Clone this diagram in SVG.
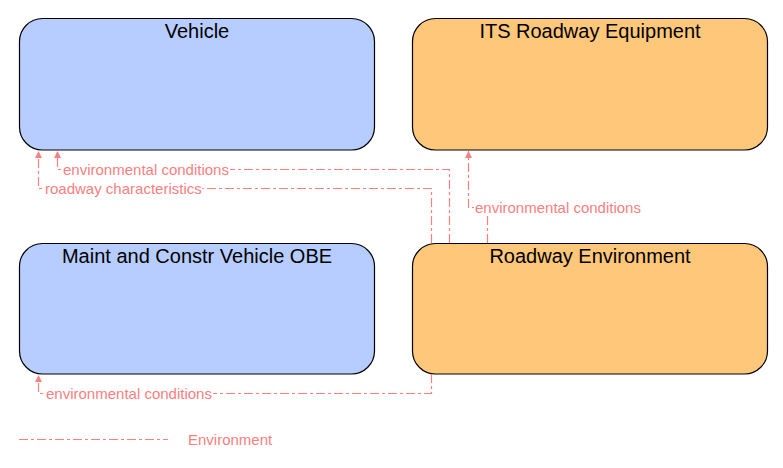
<svg xmlns="http://www.w3.org/2000/svg" width="783" height="468" viewBox="0 0 783 468">
<defs>
<style>
.box{stroke:#000;stroke-width:1.2}
.blue{fill:#b7cdff}
.orange{fill:#ffc77a}
.title{font-family:"Liberation Sans",Arial,sans-serif;font-size:20px;fill:#000;text-anchor:middle}
.flow{fill:none;stroke:#fa8080;stroke-width:1.2;stroke-dasharray:9,3,3,3}
.lbl{font-family:"Liberation Sans",Arial,sans-serif;font-size:15px;fill:#fa8080}
.bg{fill:#fff}
</style>
<marker id="arr" viewBox="0 0 10 10" refX="10" refY="5" markerWidth="7" markerHeight="7" orient="auto" markerUnits="userSpaceOnUse">
<path d="M0,0 L10,5 L0,10 z" fill="#fa8080"/>
</marker>
</defs>
<rect width="783" height="468" fill="#fff"/>
<g id="vehicle"><rect class="box blue" x="19.5" y="18.5" width="355" height="131.5" rx="23" ry="23"/><text class="title" x="197" y="38">Vehicle</text></g>
<g id="its-roadway-equipment"><rect class="box orange" x="412.5" y="18.5" width="355" height="131.5" rx="23" ry="23"/><text class="title" x="590" y="38">ITS Roadway Equipment</text></g>
<g id="maint-vehicle-obe"><rect class="box blue" x="19.5" y="243.5" width="355" height="130.5" rx="23" ry="23"/><text class="title" x="197" y="263">Maint and Constr Vehicle OBE</text></g>
<g id="roadway-environment"><rect class="box orange" x="412.5" y="243.5" width="355" height="130.5" rx="23" ry="23"/><text class="title" x="590" y="263">Roadway Environment</text></g>
<g id="connectors">
<path class="flow" d="M449.5,243 V169.5 H57.5 V151" marker-end="url(#arr)"/>
<rect class="bg" x="62" y="161" width="168" height="16"/>
<text class="lbl" x="63" y="175">environmental conditions</text>
<path class="flow" d="M431.5,243 V188.5 H38.5 V151" marker-end="url(#arr)"/>
<rect class="bg" x="44" y="180" width="158" height="16"/>
<text class="lbl" x="45" y="194">roadway characteristics</text>
<path class="flow" d="M487.5,243 V207.5 H468.5 V151" marker-end="url(#arr)"/>
<rect class="bg" x="474" y="199" width="168" height="16"/>
<text class="lbl" x="475" y="213">environmental conditions</text>
<path class="flow" d="M431.5,374 V393.5 H38.5 V375" marker-end="url(#arr)"/>
<rect class="bg" x="45" y="385" width="168" height="16"/>
<text class="lbl" x="46" y="399">environmental conditions</text>
</g>
<g id="legend">
<path class="flow" d="M19,439.5 H168"/>
<text class="lbl" x="188" y="445">Environment</text>
</g>
</svg>
